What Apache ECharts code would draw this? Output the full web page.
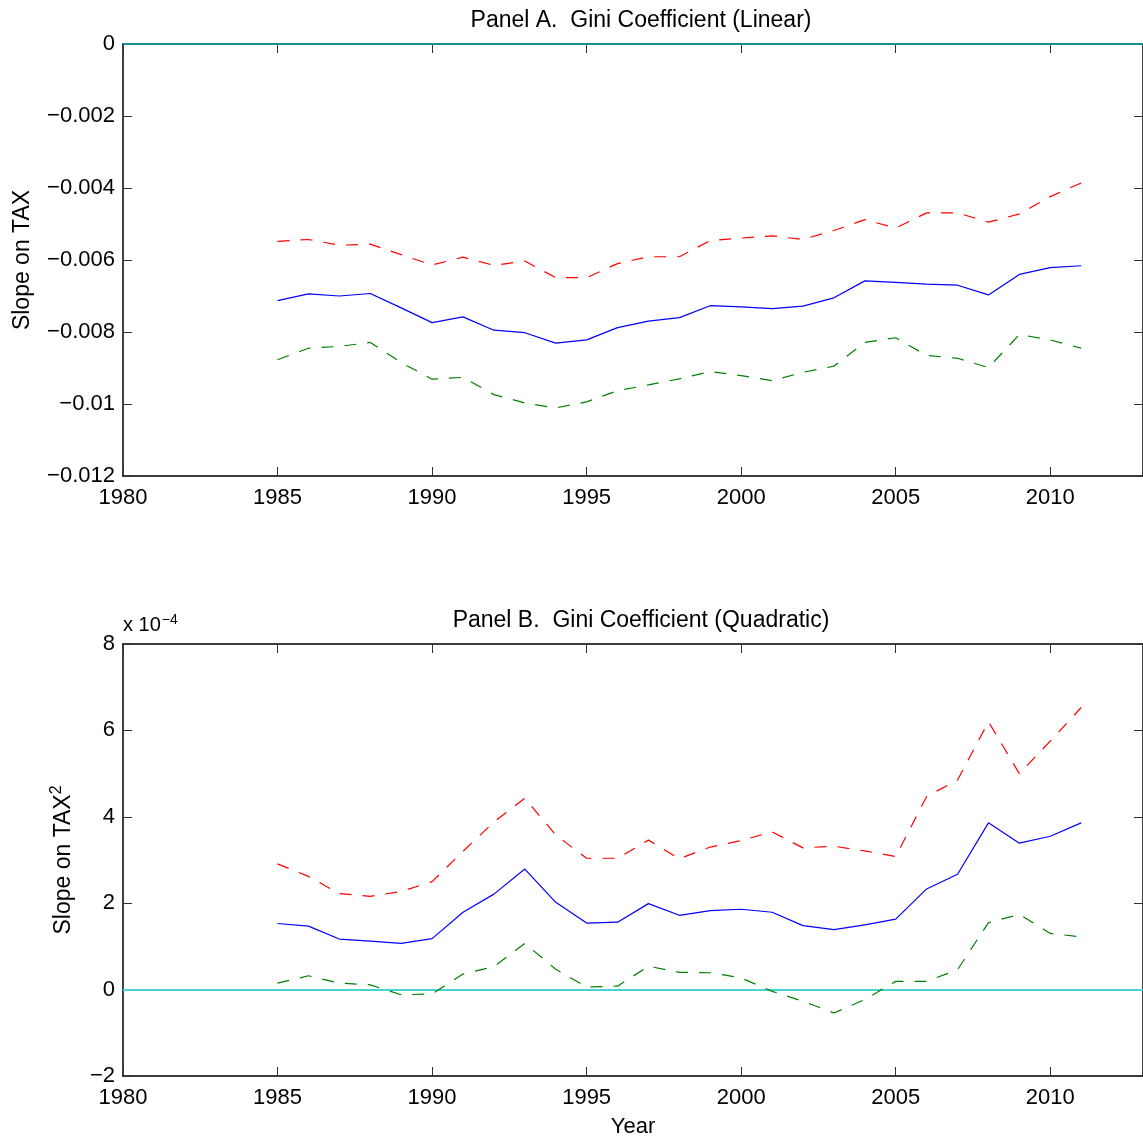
<!DOCTYPE html>
<html lang="en">
<head>
  <meta charset="UTF-8">
  <title>Gini Coefficient slopes</title>
  <style>
    html, body { margin: 0; padding: 0; background: #fff; }
  </style>
</head>
<body>
  <div id="main" style="width:1143px;height:1141px;"></div>
<script src="https://cdn.jsdelivr.net/npm/echarts@6/dist/echarts.min.js"></script>
<script>
  var years = [1985, 1986, 1987, 1988, 1989, 1990, 1991, 1992, 1993, 1994, 1995, 1996, 1997, 1998,
    1999, 2000, 2001, 2002, 2003, 2004, 2005, 2006, 2007, 2008, 2009, 2010, 2011];

  // Panel A: slope on TAX (linear)
  var linEst = [-0.00713, -0.00694, -0.00700, -0.00693, -0.00733, -0.00774, -0.00758, -0.00795, -0.00802,
    -0.00831, -0.00822, -0.00788, -0.00770, -0.00760, -0.00727, -0.00730, -0.00735, -0.00728, -0.00705,
    -0.00658, -0.00662, -0.00667, -0.00670, -0.00697, -0.00640, -0.00621, -0.00616];
  var linUpper = [-0.00548, -0.00543, -0.00559, -0.00556, -0.00585, -0.00614, -0.00592, -0.00615, -0.00603,
    -0.00649, -0.00649, -0.00610, -0.00591, -0.00591, -0.00546, -0.00539, -0.00533, -0.00543, -0.00518,
    -0.00488, -0.00511, -0.00469, -0.00469, -0.00495, -0.00472, -0.00424, -0.00386];
  var linLower = [-0.00877, -0.00845, -0.00840, -0.00829, -0.00885, -0.00931, -0.00926, -0.00974, -0.00997,
    -0.01011, -0.00994, -0.00963, -0.00947, -0.00930, -0.00910, -0.00921, -0.00935, -0.00912, -0.00895,
    -0.00829, -0.00816, -0.00865, -0.00873, -0.00899, -0.00807, -0.00822, -0.00845];

  // Panel B: slope on TAX^2 (quadratic), in units of 1e-4
  var quadEst = [1.53, 1.47, 1.17, 1.12, 1.07, 1.18, 1.79, 2.21, 2.79, 2.02, 1.54, 1.56, 1.99, 1.72,
    1.83, 1.86, 1.79, 1.48, 1.39, 1.50, 1.63, 2.33, 2.67, 3.86, 3.39, 3.55, 3.86];
  var quadUpper = [2.91, 2.62, 2.22, 2.16, 2.27, 2.50, 3.20, 3.88, 4.43, 3.58, 3.04, 3.04, 3.46, 3.03,
    3.30, 3.45, 3.65, 3.28, 3.32, 3.21, 3.08, 4.47, 4.85, 6.20, 5.00, 5.75, 6.53];
  var quadLower = [0.15, 0.32, 0.15, 0.11, -0.12, -0.10, 0.36, 0.53, 1.07, 0.47, 0.06, 0.08, 0.54, 0.40,
    0.39, 0.27, -0.04, -0.27, -0.54, -0.23, 0.19, 0.19, 0.46, 1.55, 1.74, 1.30, 1.22];

  var xTicks = [1980, 1985, 1990, 1995, 2000, 2005, 2010];

  var FONT = '"Liberation Sans", Arial, Helvetica, sans-serif';
  var myChart = echarts.init(document.getElementById('main'));

  function pairs(vals) {
    return years.map(function (y, i) { return [y, vals[i]]; });
  }

  function minusFmt(v) {
    if (Math.abs(v) < 1e-12) return '0';
    var s = String(+Math.abs(v).toFixed(6));
    return (v < 0 ? '\u2212' : '') + s;
  }

  function xAx(grid, pos, showLabels, name) {
    return {
      type: 'value', gridIndex: grid, position: pos,
      min: 1980, max: 2013, interval: 5,
      name: name || '', nameLocation: 'middle', nameGap: 40,
      nameTextStyle: { fontFamily: FONT, fontSize: 22, color: '#000' },
      axisLine: { show: true, onZero: false, lineStyle: { color: '#000', width: 1.5 } },
      axisTick: { show: true, inside: true, length: 9, lineStyle: { color: '#333' } },
      axisLabel: {
        show: showLabels, margin: 11, fontFamily: FONT, fontSize: 22, color: '#000',
        showMaxLabel: false,
        formatter: function (v) { return xTicks.indexOf(v) >= 0 ? String(v) : ''; }
      },
      splitLine: { show: false }
    };
  }

  function yAx(grid, pos, min, max, interval, showLabels, name, gap, fmt) {
    return {
      type: 'value', gridIndex: grid, position: pos,
      min: min, max: max, interval: interval,
      name: name || '', nameLocation: 'middle', nameGap: gap || 0,
      nameTextStyle: {
        fontFamily: FONT, fontSize: 23, color: '#000',
        rich: { sup: { fontFamily: FONT, fontSize: 16, color: '#000', padding: [0, 0, 14, 0] } }
      },
      axisLine: { show: true, onZero: false, lineStyle: { color: '#000', width: 1.5 } },
      axisTick: { show: true, inside: true, length: 9, lineStyle: { color: '#333' } },
      axisLabel: { show: showLabels, margin: 8, fontFamily: FONT, fontSize: 22, color: '#000', formatter: fmt },
      splitLine: { show: false }
    };
  }

  function line(name, xi, yi, vals, color, dashed, zeroColor) {
    var s = {
      name: name, type: 'line', xAxisIndex: xi, yAxisIndex: yi,
      data: pairs(vals), symbol: 'none', z: 3,
      lineStyle: { color: color, width: 1.2, type: dashed ? [12, 11] : 'solid' }
    };
    if (zeroColor) {
      s.markLine = {
        silent: true, symbol: 'none', label: { show: false }, z: 2,
        lineStyle: { color: zeroColor, width: 2, type: 'solid' },
        data: [{ yAxis: 0 }]
      };
    }
    return s;
  }

  myChart.setOption({
    animation: false,
    backgroundColor: '#fff',
    title: [
      { text: 'Panel A.  Gini Coefficient (Linear)', left: 636, top: 4, textAlign: 'center',
        textStyle: { fontFamily: FONT, fontSize: 23, fontWeight: 'normal', color: '#000' } },
      { text: 'Panel B.  Gini Coefficient (Quadratic)', left: 636, top: 604, textAlign: 'center',
        textStyle: { fontFamily: FONT, fontSize: 23, fontWeight: 'normal', color: '#000' } }
    ],
    graphic: [{
      type: 'text', left: 123, top: 613,
      style: {
        text: 'x 10{sup|\u22124}', font: '20px ' + FONT, fill: '#000',
        rich: { sup: { font: '14px ' + FONT, fill: '#000', padding: [0, 0, 11, 1] } }
      }
    }],
    grid: [
      { left: 123, top: 44, width: 1026, height: 432 },
      { left: 123, top: 644, width: 1026, height: 432 }
    ],
    xAxis: [
      xAx(0, 'bottom', true),
      xAx(0, 'top', false),
      xAx(1, 'bottom', true, 'Year'),
      xAx(1, 'top', false)
    ],
    yAxis: [
      yAx(0, 'left', -0.012, 0, 0.002, true, 'Slope on TAX', 89, minusFmt),
      yAx(0, 'right', -0.012, 0, 0.002, false),
      yAx(1, 'left', -2, 8, 2, true, 'Slope on TAX{sup|2}', 44, minusFmt),
      yAx(1, 'right', -2, 8, 2, false)
    ],
    series: [
      line('A upper', 0, 0, linUpper, '#ff0000', true),
      line('A estimate', 0, 0, linEst, '#0000ff', false, '#128f8f'),
      line('A lower', 0, 0, linLower, '#008000', true),
      line('B upper', 2, 2, quadUpper, '#ff0000', true),
      line('B estimate', 2, 2, quadEst, '#0000ff', false, '#45d3d3'),
      line('B lower', 2, 2, quadLower, '#008000', true)
    ]
  });
</script>
</body>
</html>
